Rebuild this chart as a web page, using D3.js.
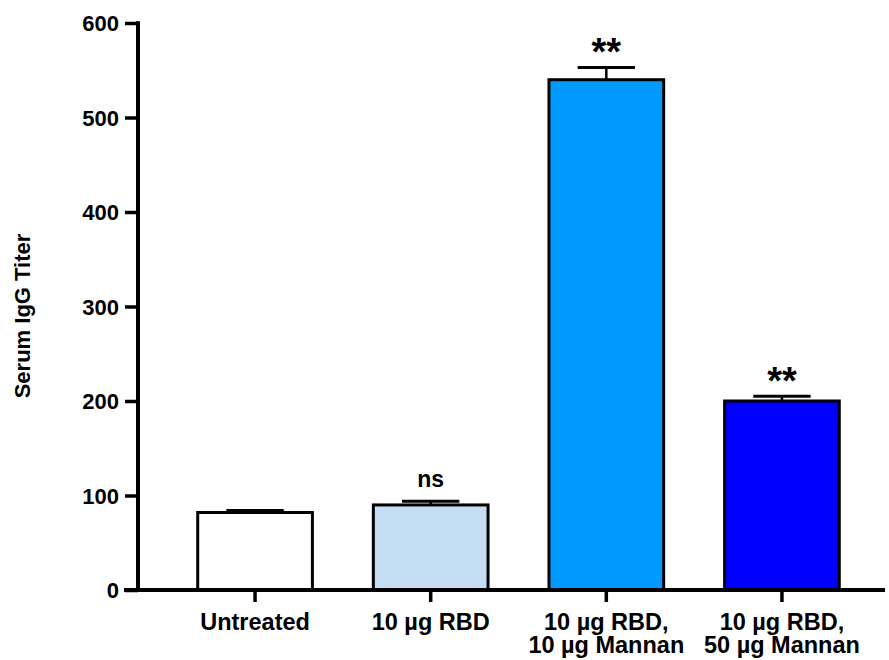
<!DOCTYPE html>
<html>
<head>
<meta charset="utf-8">
<script src="https://cdn.jsdelivr.net/npm/d3@7"></script>
<style>
body { margin: 0; background: #fff; }
svg text { font-family: "Liberation Sans", Arial, sans-serif; font-weight: bold; fill: #000; }
</style>
</head>
<body>
<svg id="chart" width="889" height="660"></svg>
<script>
var groups = ["Untreated", "10 µg RBD", "10 µg RBD,\n10 µg Mannan", "10 µg RBD,\n50 µg Mannan"];
var means = [82, 90, 540, 200];
var errors = [2, 4, 13, 5];
var marks = ["", "ns", "**", "**"];
var barColors = ["#ffffff", "#c6def4", "#0099ff", "#0000ff"];
var yTicks = [0, 100, 200, 300, 400, 500, 600];

var svg = d3.select("#chart");

var xScale = d3.scaleBand()
    .domain(groups)
    .range([138, 899])
    .paddingInner(0.347)
    .paddingOuter(0.34);
var yScale = d3.scaleLinear()
    .domain([0, 600])
    .range([590, 23]);

// y axis
var yAxis = svg.append("g")
    .attr("transform", "translate(138,0)")
    .call(d3.axisLeft(yScale).tickValues(yTicks).tickSize(13).tickPadding(6));
yAxis.select(".domain").remove();
yAxis.selectAll(".tick line").attr("stroke", "#000").attr("stroke-width", 3.5);
yAxis.selectAll(".tick text").style("font-size", "22px").attr("dy", "0.36em");
svg.append("line")
    .attr("x1", 138).attr("x2", 138)
    .attr("y1", yScale(600) - 1.75).attr("y2", yScale(0) + 2)
    .attr("stroke", "#000").attr("stroke-width", 4);

svg.append("text")
    .attr("transform", "translate(30," + 316 + ") rotate(-90)")
    .attr("text-anchor", "middle")
    .style("font-size", "22px")
    .text("Serum IgG Titer");

// bars
var bw = xScale.bandwidth();
var bars = svg.append("g");
groups.forEach(function(g, i) {
    var cx = xScale(g) + bw / 2;
    // error bar
    bars.append("line")
        .attr("x1", cx).attr("x2", cx)
        .attr("y1", yScale(means[i])).attr("y2", yScale(means[i] + errors[i]))
        .attr("stroke", "#000").attr("stroke-width", 2.5);
    bars.append("line")
        .attr("x1", cx - bw / 4).attr("x2", cx + bw / 4)
        .attr("y1", yScale(means[i] + errors[i])).attr("y2", yScale(means[i] + errors[i]))
        .attr("stroke", "#000").attr("stroke-width", 3);
    bars.append("rect")
        .attr("x", xScale(g))
        .attr("y", yScale(means[i]))
        .attr("width", bw)
        .attr("height", yScale(0) - yScale(means[i]))
        .attr("fill", barColors[i])
        .attr("stroke", "#000")
        .attr("stroke-width", 3);
    if (marks[i]) {
        bars.append("text")
            .attr("x", cx)
            .attr("y", yScale(means[i] + errors[i]) - (marks[i] == "ns" ? 14 : 2))
            .attr("text-anchor", "middle")
            .style("font-size", marks[i] == "ns" ? "23px" : "38px")
            .text(marks[i]);
    }
});

// x axis
var xAxis = svg.append("g")
    .attr("transform", "translate(0," + yScale(0) + ")")
    .call(d3.axisBottom(xScale).tickSize(12).tickFormat(""));
xAxis.select(".domain").remove();
xAxis.selectAll(".tick line").attr("stroke", "#000").attr("stroke-width", 3.5);
svg.append("line")
    .attr("x1", 124).attr("x2", 885)
    .attr("y1", yScale(0)).attr("y2", yScale(0))
    .attr("stroke", "#000").attr("stroke-width", 4);

groups.forEach(function(g) {
    var lines = g.split("\n");
    var t = svg.append("text")
        .attr("x", xScale(g) + bw / 2)
        .attr("y", 630)
        .attr("text-anchor", "middle")
        .style("font-size", "23.5px");
    lines.forEach(function(l, j) {
        t.append("tspan")
            .attr("x", xScale(g) + bw / 2)
            .attr("dy", j == 0 ? 0 : 23)
            .text(l);
    });
});
</script>
</body>
</html>
